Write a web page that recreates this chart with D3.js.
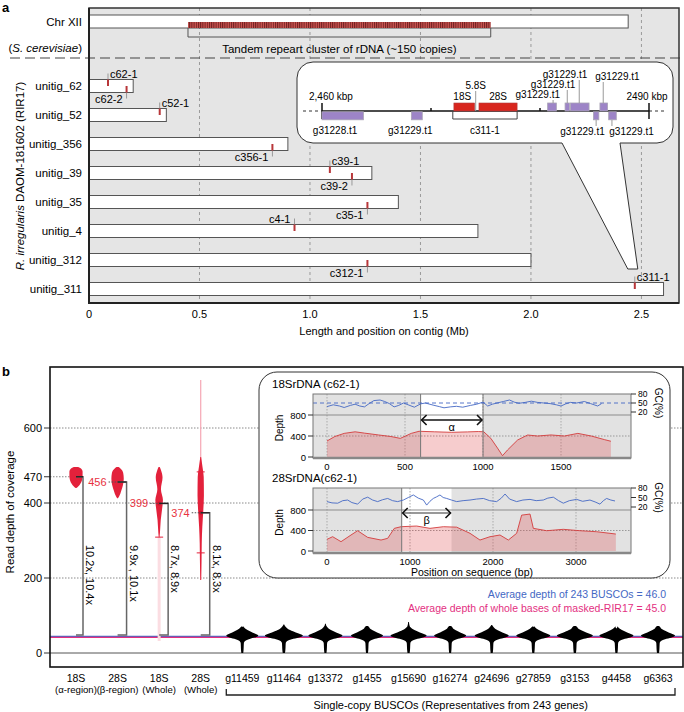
<!DOCTYPE html>
<html>
<head>
<meta charset="utf-8">
<script src="https://cdn.jsdelivr.net/npm/d3@7"></script>
<style>
body { margin: 0; background: #fff; }
svg { display: block; font-family: "Liberation Sans", Arial, Helvetica, sans-serif; }
</style>
</head>
<body>
<script>
// ---------- panel a data ----------
var chrLen = 2.44;                        // Chr XII bar as drawn (Mb)
var rdnaCluster = [0.448, 1.818];
var contigs = ["unitig_62", "unitig_52", "unitig_356", "unitig_39", "unitig_35", "unitig_4", "unitig_312", "unitig_311"];
var contigLen = [0.20, 0.35, 0.90, 1.28, 1.40, 1.76, 2.00, 2.60];
var copyNames = ["c62-1", "c62-2", "c52-1", "c356-1", "c39-1", "c39-2", "c35-1", "c4-1", "c312-1", "c311-1"];
var copyContig = ["unitig_62", "unitig_62", "unitig_52", "unitig_356", "unitig_39", "unitig_39", "unitig_35", "unitig_4", "unitig_312", "unitig_311"];
var copyPos = [0.086, 0.17, 0.32, 0.83, 1.09, 1.19, 1.26, 0.93, 1.26, 2.47];
var copySide = ["up", "down", "up", "down", "up", "down", "down", "up", "down", "up"];
var copyAnchor = ["start", "end", "start", "end", "start", "end", "end", "end", "end", "start"];
var xTicksA = [0, 0.5, 1.0, 1.5, 2.0, 2.5];
var xTickLabelsA = ["0", "0.5", "1.0", "1.5", "2.0", "2.5"];

// zoom of unitig_311 (kbp)
var zoomRange = [2460, 2490];
var geneName = ["g31228.t1", "g31229.t1", "g31229.t1", "g31229.t1", "g31229.t1", "g31229.t1", "g31229.t1", "g31229.t1"];
var geneStart = [2460.0, 2468.2, 2480.7, 2482.3, 2482.8, 2485.5, 2484.9, 2486.3];
var geneEnd = [2463.8, 2469.2, 2481.5, 2482.7, 2484.5, 2486.2, 2485.4, 2487.0];
var geneStrand = ["-", "-", "+", "+", "+", "+", "-", "-"];
var rrnaName = ["18S", "5.8S", "28S"];
var rrnaStart = [2472.1, 2474.1, 2474.4];
var rrnaEnd = [2474.0, 2474.2, 2477.9];
var copyZoom = [2472.0, 2477.9];

// ---------- panel b data ----------
var cats = ["18S", "28S", "18S", "28S", "g11459", "g11464", "g13372", "g1455", "g15690", "g16274", "g24696", "g27859", "g3153", "g4458", "g6363"];
var catSub = ["(\u03b1-region)", "(\u03b2-region)", "(Whole)", "(Whole)", "", "", "", "", "", "", "", "", "", "", ""];
var yTicksB = [0, 200, 400, 470, 600];
var rdnaMedian = [470, 456, 399, 374];
var rdnaRatio = ["10.2x, 10.4x", "9.9x , 10.1x", "8.7x, 8.9x", "8.1x, 8.3x"];
// violin profiles: [depth, density]
var rdnaViolin = [
  [[496, 0.11], [492, 0.25], [484, 0.33], [472, 0.33], [461, 0.3], [451, 0.21], [445, 0.12], [440, 0.02]],
  [[496, 0.05], [493, 0.13], [481, 0.28], [465, 0.31], [448, 0.27], [432, 0.18], [418, 0.08], [413, 0.02]],
  [[496, 0.03], [488, 0.09], [468, 0.17], [437, 0.09], [408, 0.19], [381, 0.14], [355, 0.08], [320, 0.04], [309, 0.02]],
  [[523, 0.02], [496, 0.09], [470, 0.15], [420, 0.16], [381, 0.13], [336, 0.08], [293, 0.05], [248, 0.04], [195, 0.02]]
];
var rdnaSpread = [null, null, [32, 309], [195, 728]];
var rdnaWhisker = [[], [], [309], [483, 267]];
var buscoShape = [[83, 0.02], [72, 0.06], [65, 0.2], [58, 0.48], [52, 0.78], [47, 1.0], [43, 0.88], [38, 0.5], [33, 0.2], [27, 0.1], [18, 0.09], [8, 0.08], [0, 0.06]];
var buscoPeak = [0.8, 0.95, 0.85, 0.8, 0.9, 0.8, 0.85, 0.85, 0.9, 0.85, 0.85];
var buscoTop = [70, 76, 78, 72, 83, 72, 75, 70, 72, 66, 72];
var avgBusco = 46.0, avgGenome = 45.0;

// coverage tracks: [position bp, value]
var gc18 = [[0,38],[40,44],[80,40],[110,35],[150,42],[180,46],[210,40],[240,37],[270,48],[300,58],[340,60],[370,55],[400,48],[430,37],[460,42],[490,50],[520,44],[560,36],[600,47],[630,50],[680,43],[720,38],[750,34],[790,37],[830,39],[870,36],[920,42],[960,46],[1000,53],[1030,40],[1060,46],[1090,50],[1130,55],[1170,60],[1200,53],[1230,49],[1270,52],[1310,56],[1350,52],[1390,50],[1430,48],[1470,44],[1500,40],[1530,47],[1560,52],[1600,50],[1650,55],[1690,48],[1735,40],[1760,48]];
var depth18 = [[0,305],[50,390],[110,450],[180,480],[240,455],[330,420],[410,390],[470,355],[540,450],[590,490],[690,480],[800,470],[900,478],[970,485],[1005,480],[1050,356],[1093,170],[1125,25],[1157,133],[1222,324],[1286,419],[1350,400],[1436,420],[1522,400],[1608,450],[1694,400],[1780,330],[1820,300]];
var gc28 = [[0,37],[60,33],[129,32],[190,40],[249,42],[300,34],[369,29],[430,45],[490,51],[550,42],[610,37],[670,43],[731,47],[790,40],[851,37],[920,42],[980,50],[1040,58],[1100,48],[1161,42],[1201,26],[1240,38],[1281,47],[1320,52],[1361,58],[1400,50],[1442,47],[1500,42],[1562,37],[1640,40],[1723,42],[1800,45],[1884,47],[1960,40],[2044,37],[2100,48],[2145,61],[2200,45],[2285,37],[2360,42],[2446,44],[2520,40],[2606,42],[2660,48],[2727,51],[2790,40],[2847,32],[2920,40],[3008,44],[3080,38],[3168,42],[3230,36],[3289,29],[3330,40],[3369,47],[3420,42],[3470,39]];
var depth28 = [[0,228],[68,279],[169,182],[289,312],[369,396],[490,266],[651,214],[731,247],[811,442],[892,474],[1080,487],[1241,442],[1402,474],[1562,465],[1723,345],[1843,214],[1964,279],[2084,312],[2185,214],[2285,345],[2345,700],[2446,721],[2486,442],[2647,396],[2847,423],[3048,396],[3249,376],[3480,331]];

var RED = "#e3213b", BLUE = "#4468c4", PINK = "#e3307f";

var svg = d3.select("body").append("svg").attr("width", 684).attr("height", 712);
var defs = svg.append("defs");
var pat = defs.append("pattern").attr("id", "hatch").attr("patternUnits", "userSpaceOnUse")
  .attr("width", 2.2).attr("height", 10);
pat.append("rect").attr("width", 2.2).attr("height", 10).attr("fill", "#cc5652");
pat.append("rect").attr("width", 1).attr("height", 10).attr("fill", "#6e1f1f");

// =============== panel a ===============
var ax = d3.scaleLinear().domain([0, 2.67]).range([89, 679]);
var ay = d3.scalePoint().domain(contigs).range([86, 289]);
var barH = 13, chrY = 21.5;
var ga = svg.append("g");

ga.append("text").attr("x", 2).attr("y", 12).attr("font-size", 13).attr("font-weight", "bold").text("a");
ga.append("rect").attr("x", ax(0)).attr("y", 8).attr("width", ax.range()[1] - ax(0)).attr("height", 295).attr("fill", "#e5e5e5");

ga.selectAll(".grid").data(xTicksA.slice(1)).enter().append("line")
  .attr("x1", d => ax(d)).attr("x2", d => ax(d)).attr("y1", 8).attr("y2", 303)
  .attr("stroke", "#9a9a9a").attr("stroke-dasharray", "3,3");

// Chr XII
ga.append("rect").attr("x", ax(0)).attr("y", chrY - barH / 2).attr("width", ax(chrLen) - ax(0)).attr("height", barH)
  .attr("fill", "#fff").attr("stroke", "#555");
ga.append("rect").attr("x", ax(rdnaCluster[0])).attr("y", chrY + 0.5).attr("width", ax(rdnaCluster[1]) - ax(rdnaCluster[0]))
  .attr("height", barH / 2 - 0.5).attr("fill", "url(#hatch)");
ga.append("path").attr("d", "M" + ax(rdnaCluster[0]) + "," + (chrY + barH / 2) + "V37H" + ax(rdnaCluster[1]) + "V" + (chrY + barH / 2))
  .attr("fill", "none").attr("stroke", "#555");
ga.append("text").attr("x", (ax(rdnaCluster[0]) + ax(rdnaCluster[1])) / 2).attr("y", 53).attr("text-anchor", "middle")
  .attr("font-size", 11.5).text("Tandem repeart cluster of rDNA (~150 copies)");
ga.append("text").attr("x", 82).attr("y", chrY + 4).attr("text-anchor", "end").attr("font-size", 11.5).text("Chr XII");
var sc = ga.append("text").attr("x", 82).attr("y", 52).attr("text-anchor", "end").attr("font-size", 11.5);
sc.append("tspan").text("(");
sc.append("tspan").attr("font-style", "italic").text("S. cerevisiae");
sc.append("tspan").text(")");
ga.append("line").attr("x1", 10).attr("x2", 684).attr("y1", 58).attr("y2", 58)
  .attr("stroke", "#444").attr("stroke-width", 1.2).attr("stroke-dasharray", "10,5");

// contigs
ga.selectAll(".contig").data(contigs).enter().append("rect")
  .attr("x", ax(0)).attr("y", d => ay(d) - barH / 2)
  .attr("width", (d, i) => ax(contigLen[i]) - ax(0)).attr("height", barH)
  .attr("fill", "#fff").attr("stroke", "#555");
ga.selectAll(".clab").data(contigs).enter().append("text")
  .attr("x", 82).attr("y", d => ay(d) + 4).attr("text-anchor", "end").attr("font-size", 11.5).text(d => d);

// rDNA copies
copyNames.forEach(function (name, i) {
  var x = ax(copyPos[i]), cy = ay(copyContig[i]);
  var up = copySide[i] === "up";
  var edge = up ? cy - barH / 2 : cy + barH / 2;
  ga.append("line").attr("x1", x).attr("x2", x).attr("y1", edge).attr("y2", up ? edge - 6 : edge + 6)
    .attr("stroke", "#999").attr("stroke-width", 1);
  ga.append("rect").attr("x", x - 1).attr("y", up ? edge : cy).attr("width", 2).attr("height", barH / 2)
    .attr("fill", "#b8373a");
  var left = copyAnchor[i] === "end";
  ga.append("text").attr("x", left ? x - 4 : x + 2).attr("y", up ? cy - 8 : cy + 17)
    .attr("text-anchor", copyAnchor[i]).attr("font-size", 11).text(name);
});

// frame
ga.append("rect").attr("x", ax(0)).attr("y", 8).attr("width", ax.range()[1] - ax(0)).attr("height", 295)
  .attr("fill", "none").attr("stroke", "#333").attr("stroke-width", 1.5);
ga.append("path").attr("d", "M" + ax(0) + ",8V303H679").attr("fill", "none").attr("stroke", "#222").attr("stroke-width", 2);

ga.selectAll(".xt").data(xTicksA).enter().append("text")
  .attr("x", d => ax(d)).attr("y", 318).attr("text-anchor", "middle").attr("font-size", 11)
  .text((d, i) => xTickLabelsA[i]);
ga.append("text").attr("x", (ax(0) + 679) / 2).attr("y", 335).attr("text-anchor", "middle").attr("font-size", 11)
  .text("Length and position on contig (Mb)");
var rt = ga.append("text").attr("transform", "translate(24,176) rotate(-90)").attr("text-anchor", "middle").attr("font-size", 11.5);
rt.append("tspan").attr("font-style", "italic").text("R. irregularis");
rt.append("tspan").text(" DAOM-181602 (RIR17)");

// callout of unitig_311
var tipX = ax(copyPos[9]), tipY = ay("unitig_311") - 20;
var bx0 = 297, by0 = 62, bx1 = 673, by1 = 143, br = 16;
var calloutD = ["M", bx0 + br, by0, "H", bx1 - br, "A", br, br, 0, 0, 1, bx1, by0 + br,
  "V", by1 - br, "A", br, br, 0, 0, 1, bx1 - br, by1,
  "H", 620, "L", tipX + 3, tipY, "H", tipX - 7, "L", 562, by1,
  "H", bx0 + br, "A", br, br, 0, 0, 1, bx0, by1 - br, "V", by0 + br, "A", br, br, 0, 0, 1, bx0 + br, by0, "Z"].join(" ");
ga.append("path").attr("d", calloutD).attr("fill", "#fff").attr("stroke", "#333").attr("stroke-width", 1);

var ix = d3.scaleLinear().domain(zoomRange).range([322, 649]);
var iy = 111;
ga.append("line").attr("x1", 303).attr("x2", ix(zoomRange[0])).attr("y1", iy).attr("y2", iy).attr("stroke", "#333").attr("stroke-dasharray", "3,3");
ga.append("line").attr("x1", ix(zoomRange[1])).attr("x2", 667).attr("y1", iy).attr("y2", iy).attr("stroke", "#333").attr("stroke-dasharray", "3,3");
ga.append("line").attr("x1", ix(zoomRange[0])).attr("x2", ix(zoomRange[1])).attr("y1", iy).attr("y2", iy).attr("stroke", "#111").attr("stroke-width", 1.5);
zoomRange.forEach(function (k) {
  ga.append("line").attr("x1", ix(k)).attr("x2", ix(k)).attr("y1", iy - 8).attr("y2", iy + 8).attr("stroke", "#111").attr("stroke-width", 1.5);
});
[2470, 2480].forEach(function (k) {
  ga.append("line").attr("x1", ix(k)).attr("x2", ix(k)).attr("y1", iy - 3).attr("y2", iy).attr("stroke", "#111").attr("stroke-width", 1.5);
});
ga.append("text").attr("x", ix(zoomRange[0]) - 13).attr("y", 100).attr("font-size", 10).text("2,460 kbp");
ga.append("text").attr("x", ix(zoomRange[1]) - 2).attr("y", 100).attr("text-anchor", "middle").attr("font-size", 10).text("2490 kbp");

// genes (label placement: centre kbp, baseline, connector position)
var geneLabK = [2461.2, 2468.1, 2479.8, 2481.2, 2482.3, 2487.1, 2483.9, 2488.4];
var geneLabY = [134, 134, 98, 88, 78, 80, 135, 135];
var geneLinK = [null, null, 2481.2, 2482.5, 2483.6, 2485.8, 2485.15, 2486.6];
geneName.forEach(function (g, i) {
  var plus = geneStrand[i] === "+";
  ga.append("rect").attr("x", ix(geneStart[i])).attr("y", plus ? iy - 8 : iy + 0.8)
    .attr("width", ix(geneEnd[i]) - ix(geneStart[i])).attr("height", 8)
    .attr("fill", "#9d84c7").attr("stroke", "#a9a3b5").attr("stroke-width", 0.8);
  if (geneLinK[i] !== null) {
    var lx = ix(geneLinK[i]);
    ga.append("line").attr("x1", lx).attr("x2", lx)
      .attr("y1", plus ? geneLabY[i] + 2 : iy + 9).attr("y2", plus ? iy - 8 : geneLabY[i] - 9)
      .attr("stroke", "#999");
  }
  ga.append("text").attr("x", ix(geneLabK[i])).attr("y", geneLabY[i]).attr("text-anchor", "middle")
    .attr("font-size", 10).text(g);
});
rrnaName.forEach(function (r, i) {
  if (r === "5.8S") {
    ga.append("line").attr("x1", ix(rrnaStart[i])).attr("x2", ix(rrnaStart[i])).attr("y1", 91).attr("y2", iy)
      .attr("stroke", "#999");
    ga.append("text").attr("x", ix(rrnaStart[i])).attr("y", 89).attr("text-anchor", "middle").attr("font-size", 10).text(r);
  } else {
    ga.append("rect").attr("x", ix(rrnaStart[i])).attr("y", iy - 8).attr("width", ix(rrnaEnd[i]) - ix(rrnaStart[i])).attr("height", 8)
      .attr("fill", "#d8261e").attr("stroke", "#b04040").attr("stroke-width", 0.6);
    ga.append("text").attr("x", (ix(rrnaStart[i]) + ix(rrnaEnd[i])) / 2 - (r === "18S" ? 2 : 0)).attr("y", 100)
      .attr("text-anchor", "middle").attr("font-size", 10).text(r);
  }
});
ga.append("path").attr("d", "M" + ix(copyZoom[0]) + "," + iy + "V" + (iy + 8) + "H" + ix(copyZoom[1]) + "V" + iy)
  .attr("fill", "none").attr("stroke", "#444");
ga.append("text").attr("x", (ix(copyZoom[0]) + ix(copyZoom[1])) / 2).attr("y", 134).attr("text-anchor", "middle")
  .attr("font-size", 10).text("c311-1");

// =============== panel b ===============
var gb = svg.append("g");
var bx = d3.scalePoint().domain(d3.range(cats.length)).range([76, 658]);
var by = d3.scaleLinear().domain([0, 600]).range([653, 428]);
var wScale = d3.scaleLinear().domain([0, 1]).range([0, 20]);
var fx0 = 50, fx1 = 683, fy0 = 367, fy1 = 667;

gb.append("text").attr("x", 2).attr("y", 376).attr("font-size", 13).attr("font-weight", "bold").text("b");

gb.selectAll(".gy").data(yTicksB.filter(d => d > 0)).enter().append("line")
  .attr("x1", fx0).attr("x2", d => d === 470 ? bx(0) : fx1)
  .attr("y1", d => by(d)).attr("y2", d => by(d))
  .attr("stroke", "#8a8a8a").attr("stroke-dasharray", "1.5,1.5");
gb.append("line").attr("x1", fx0).attr("x2", fx1).attr("y1", by(0)).attr("y2", by(0)).attr("stroke", "#555");
gb.selectAll(".yt").data(yTicksB).enter().append("line")
  .attr("x1", fx0 - 6).attr("x2", fx0).attr("y1", d => by(d)).attr("y2", d => by(d)).attr("stroke", "#333");
gb.selectAll(".ytl").data(yTicksB).enter().append("text")
  .attr("x", fx0 - 8).attr("y", d => by(d) + 4).attr("text-anchor", "end").attr("font-size", 11).text(d => d);
gb.append("text").attr("transform", "translate(14,512) rotate(-90)").attr("text-anchor", "middle").attr("font-size", 11.5)
  .text("Read depth of coverage");

// average lines
gb.append("line").attr("x1", fx0).attr("x2", fx1).attr("y1", by(avgBusco) + 0.6).attr("y2", by(avgBusco) + 0.6)
  .attr("stroke", BLUE).attr("stroke-width", 1.3);
gb.append("line").attr("x1", fx0).attr("x2", fx1).attr("y1", by(avgGenome) + 1.2).attr("y2", by(avgGenome) + 1.2)
  .attr("stroke", PINK).attr("stroke-width", 1.1);

function violinPath(cx, prof) {
  return d3.area().curve(d3.curveMonotoneY)
    .y(d => by(d[0])).x0(d => cx - wScale(d[1])).x1(d => cx + wScale(d[1]))(prof.slice().reverse());
}

// rDNA violins
rdnaViolin.forEach(function (prof, i) {
  var cx = bx(i), ym = by(rdnaMedian[i]), brx = cx + (i === 0 ? 7 : 9);
  if (rdnaSpread[i]) {
    gb.append("line").attr("x1", cx).attr("x2", cx).attr("y1", by(rdnaSpread[i][1])).attr("y2", by(rdnaSpread[i][0]))
      .attr("stroke", i === 2 ? "#fbdde2" : "#f5a6b4").attr("stroke-width", i === 2 ? 3 : 1.2);
  }
  gb.append("path").attr("d", violinPath(cx, prof)).attr("fill", RED);
  rdnaWhisker[i].forEach(function (w) {
    gb.append("line").attr("x1", cx - 4).attr("x2", cx + 4).attr("y1", by(w)).attr("y2", by(w)).attr("stroke", RED).attr("stroke-width", 1);
  });
  if (i >= 2) gb.append("circle").attr("cx", cx).attr("cy", ym).attr("r", 2).attr("fill", "#d0102a");
  if (i > 0) {
    gb.append("text").attr("x", cx - 11).attr("y", ym + 4).attr("text-anchor", "end").attr("font-size", 11)
      .attr("fill", "#e8323f").text(rdnaMedian[i]);
    gb.append("line").attr("x1", cx - 9).attr("x2", cx).attr("y1", ym).attr("y2", ym)
      .attr("stroke", "#555").attr("stroke-dasharray", "1.5,1.5");
  }
  gb.append("path").attr("d", "M" + cx + "," + ym + "H" + brx + "V" + by(48) + "H" + cx)
    .attr("fill", "none").attr("stroke", "#666").attr("stroke-width", 1.5);
  gb.append("line").attr("x1", cx).attr("x2", brx).attr("y1", ym).attr("y2", ym).attr("stroke", "#222").attr("stroke-width", 1.3);
  gb.append("text").attr("transform", "translate(" + (brx + 3) + ",545) rotate(90)").attr("font-size", 11).text(rdnaRatio[i]);
});

// BUSCO violins
buscoPeak.forEach(function (pk, j) {
  var prof = buscoShape.map(function (d, k) { return k === 0 ? [buscoTop[j], d[1]] : [d[0], d[1] * pk]; });
  gb.append("path").attr("d", violinPath(bx(j + 4), prof)).attr("fill", "#000");
});

// x labels
gb.selectAll(".xl").data(cats).enter().append("text")
  .attr("x", (d, i) => bx(i)).attr("y", 682).attr("text-anchor", "middle").attr("font-size", 10.5).text(d => d);
gb.selectAll(".xl2").data(catSub).enter().append("text")
  .attr("x", (d, i) => bx(i)).attr("y", 693).attr("text-anchor", "middle").attr("font-size", 9.6).text(d => d);
var bL = bx(4) - 16, bR = bx(cats.length - 1) + 17;
gb.append("path").attr("d", "M" + bL + ",689V695H" + bR + "V688").attr("fill", "none").attr("stroke", "#222").attr("stroke-width", 1.3);
gb.append("text").attr("x", (bL + bR) / 2).attr("y", 709).attr("text-anchor", "middle").attr("font-size", 11)
  .text("Single-copy BUSCOs (Representatives from 243 genes)");

gb.append("text").attr("x", 666).attr("y", 598).attr("text-anchor", "end").attr("font-size", 10.5).attr("fill", BLUE)
  .text("Average depth of 243 BUSCOs = " + avgBusco.toFixed(1));
gb.append("text").attr("x", 666).attr("y", 612).attr("text-anchor", "end").attr("font-size", 10.5).attr("fill", PINK)
  .text("Average depth of whole bases of masked-RIR17 = " + avgGenome.toFixed(1));

gb.append("rect").attr("x", fx0).attr("y", fy0).attr("width", fx1 - fx0).attr("height", fy1 - fy0)
  .attr("fill", "none").attr("stroke", "#111").attr("stroke-width", 1.6);

// inset with coverage tracks
gb.append("rect").attr("x", 259).attr("y", 372).attr("width", 411).attr("height", 206).attr("rx", 18)
  .attr("fill", "#fff").attr("stroke", "#333").attr("stroke-width", 1);

function track(o) {
  var g = gb.append("g");
  var x = o.x, yd = o.yd, yg = o.yg;
  g.append("text").attr("x", 272).attr("y", o.y0 - 6).attr("font-size", 11.5).text(o.title);
  g.append("rect").attr("x", o.x0).attr("y", o.y0).attr("width", o.x1 - o.x0).attr("height", o.y1 - o.y0).attr("fill", "#e2e2e2");
  g.append("rect").attr("x", x(o.band[0])).attr("y", o.y0).attr("width", x(o.band[1]) - x(o.band[0])).attr("height", o.y1 - o.y0).attr("fill", "#fff");
  g.selectAll(".vg").data(o.ticks).enter().append("line")
    .attr("x1", d => x(d)).attr("x2", d => x(d)).attr("y1", o.y0).attr("y2", o.y1)
    .attr("stroke", "#aaa").attr("stroke-dasharray", "1.5,1.5");
  g.append("line").attr("x1", o.x0).attr("x2", o.x1).attr("y1", yd(400)).attr("y2", yd(400)).attr("stroke", "#999").attr("stroke-dasharray", "1.5,1.5");
  g.append("line").attr("x1", o.x0).attr("x2", o.x1).attr("y1", yd(800)).attr("y2", yd(800)).attr("stroke", "#8c8c8c");
  g.append("path").datum(o.depth).attr("fill", "#e0474c").attr("fill-opacity", 0.28)
    .attr("d", d3.area().x(d => x(d[0])).y0(yd(0)).y1(d => yd(d[1])));
  g.append("path").datum(o.depth).attr("fill", "none").attr("stroke", "#d43c3c").attr("stroke-width", 0.9)
    .attr("d", d3.line().x(d => x(d[0])).y(d => yd(d[1])));
  o.edges.forEach(function (e) {
    g.append("line").attr("x1", x(e)).attr("x2", x(e)).attr("y1", o.y0).attr("y2", o.y1).attr("stroke", "#777").attr("stroke-width", 1);
  });
  if (o.gcRef) {
    g.append("line").attr("x1", o.x0).attr("x2", o.x1).attr("y1", yg(50)).attr("y2", yg(50))
      .attr("stroke", BLUE).attr("stroke-dasharray", "4,3").attr("stroke-width", 0.9);
  }
  g.append("path").datum(o.gc).attr("fill", "none").attr("stroke", BLUE).attr("stroke-width", 0.9)
    .attr("d", d3.line().x(d => x(d[0])).y(d => yg(d[1])));
  g.append("rect").attr("x", o.x0).attr("y", o.y0).attr("width", o.x1 - o.x0).attr("height", o.y1 - o.y0)
    .attr("fill", "none").attr("stroke", "#777").attr("stroke-width", 1);
  g.append("line").attr("x1", o.x0).attr("x2", o.x1).attr("y1", o.y1).attr("y2", o.y1).attr("stroke", "#888").attr("stroke-width", 2.5);
  // arrow
  var a0 = x(o.band[0]) + 1, a1 = x(o.band[1]) - 1, ay0 = o.arrowY;
  g.append("line").attr("x1", a0).attr("x2", a1).attr("y1", ay0).attr("y2", ay0).attr("stroke", o.arrowColor).attr("stroke-width", 1.4);
  g.append("path").attr("d", "M" + (a0 + 5) + "," + (ay0 - 5) + "L" + a0 + "," + ay0 + "L" + (a0 + 5) + "," + (ay0 + 5) +
    "M" + (a1 - 5) + "," + (ay0 - 5) + "L" + a1 + "," + ay0 + "L" + (a1 - 5) + "," + (ay0 + 5))
    .attr("fill", "none").attr("stroke", "#111").attr("stroke-width", 1.6);
  g.append("text").attr("x", (a0 + a1) / 2).attr("y", ay0 + 11).attr("text-anchor", "middle").attr("font-size", 11).text(o.greek);
  // axes
  [0, 400, 800].forEach(function (v) {
    g.append("line").attr("x1", o.x0 - 5).attr("x2", o.x0).attr("y1", yd(v)).attr("y2", yd(v)).attr("stroke", "#333");
    g.append("text").attr("x", o.x0 - 7).attr("y", yd(v) + 3.5).attr("text-anchor", "end").attr("font-size", 9.5).text(v);
  });
  [80, 50, 20].forEach(function (v) {
    g.append("line").attr("x1", o.x1).attr("x2", o.x1 + 5).attr("y1", yg(v)).attr("y2", yg(v)).attr("stroke", "#333");
    g.append("text").attr("x", o.x1 + 7).attr("y", yg(v) + 3).attr("font-size", 8.5).text(v);
  });
  g.selectAll(".tl").data(o.ticks).enter().append("text")
    .attr("x", d => x(d)).attr("y", o.y1 + 12).attr("text-anchor", "middle").attr("font-size", 9.5).text(d => d);
  g.append("text").attr("transform", "translate(283," + (yd(400) - 8) + ") rotate(-90)").attr("text-anchor", "middle")
    .attr("font-size", 10).text("Depth");
  g.append("text").attr("transform", "translate(655," + yg(50) + ") rotate(90)").attr("text-anchor", "middle")
    .attr("font-size", 10).text("GC(%)");
}

track({
  title: "18SrDNA (c62-1)", x0: 313, x1: 631, y0: 394, y1: 458,
  x: d3.scaleLinear().domain([0, 1500]).range([327, 561]),
  yd: d3.scaleLinear().domain([0, 800]).range([457, 415]),
  yg: d3.scaleLinear().domain([20, 80]).range([412, 394]),
  ticks: [0, 500, 1000, 1500], band: [600, 1000], edges: [600, 1000],
  depth: depth18, gc: gc18, gcRef: true, arrowY: 420, greek: "\u03b1", arrowColor: "#111"
});
track({
  title: "28SrDNA(c62-1)", x0: 313, x1: 631, y0: 488, y1: 553,
  x: d3.scaleLinear().domain([0, 3000]).range([327, 576]),
  yd: d3.scaleLinear().domain([0, 800]).range([551, 510]),
  yg: d3.scaleLinear().domain([20, 80]).range([507, 488]),
  ticks: [0, 1000, 2000, 3000], band: [900, 1500], edges: [900],
  depth: depth28, gc: gc28, gcRef: false, arrowY: 513, greek: "\u03b2", arrowColor: "#777"
});
gb.append("text").attr("x", 472).attr("y", 576).attr("text-anchor", "middle").attr("font-size", 10.5)
  .text("Position on sequence (bp)");
</script>
</body>
</html>
